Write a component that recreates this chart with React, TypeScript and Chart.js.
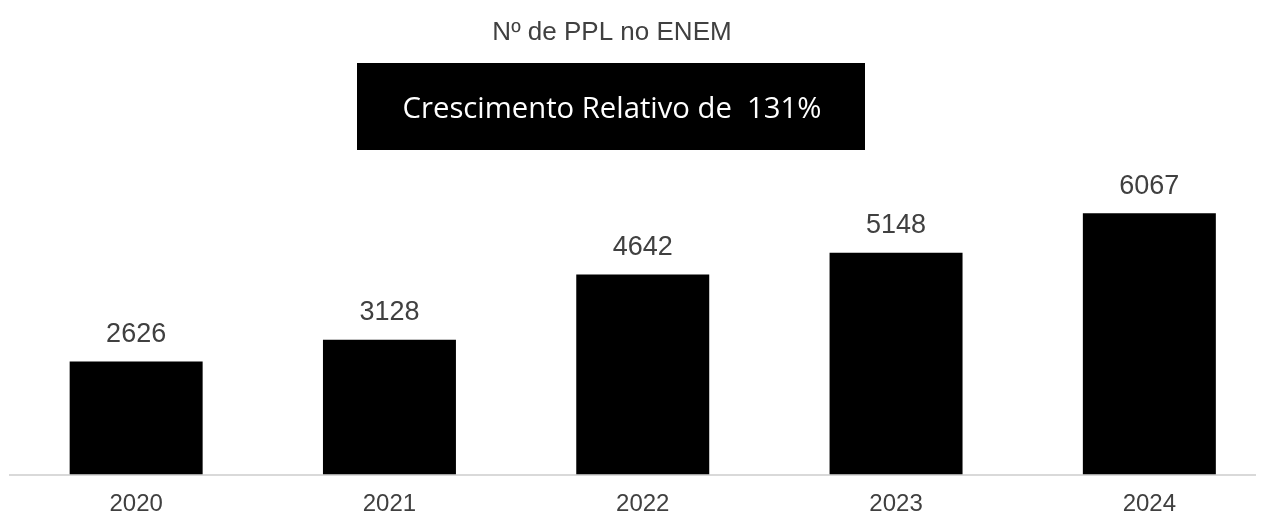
import React, { useEffect, useRef } from "react";
import { Chart, registerables } from "chart.js";

Chart.register(...registerables);

const chartTitle = "Nº de PPL no ENEM";
const boxText = "Crescimento Relativo de  131%";
const years = ["2020", "2021", "2022", "2023", "2024"];
const participants = [2626, 3128, 4642, 5148, 6067];

const TEXT = "#404040";
const FONT = "'Liberation Sans', Arial, sans-serif";

const decorPlugin = {
  id: "decor",
  afterDraw(chart: any) {
    const ctx = chart.ctx;
    ctx.save();
    // title
    ctx.fillStyle = TEXT;
    ctx.font = `26px ${FONT}`;
    ctx.textAlign = "center";
    ctx.textBaseline = "middle";
    ctx.fillText(chartTitle, 604, 25);
    // black box
    ctx.fillStyle = "#000";
    ctx.fillRect(349, 55, 508, 87);
    ctx.fillStyle = "#ffffff";
    let size = 30;
    ctx.font = `${size}px 'Open Sans', 'Noto Sans', sans-serif`;
    const w = ctx.measureText(boxText).width;
    size = size * (419 / w);
    ctx.font = `${size}px 'Open Sans', 'Noto Sans', sans-serif`;
    ctx.fillText(boxText, 604, 102);
    // data labels
    ctx.fillStyle = TEXT;
    ctx.font = `27px ${FONT}`;
    const meta = chart.getDatasetMeta(0);
    meta.data.forEach((bar: any, i: number) => {
      ctx.fillText(String(participants[i]), bar.x, bar.y - 27);
    });
    ctx.restore();
  },
};

export default function App() {
  const ref = useRef<HTMLCanvasElement>(null);
  useEffect(() => {
    if (!ref.current) return;
    const chart = new Chart(ref.current, {
      type: "bar",
      data: {
        labels: years,
        datasets: [
          {
            data: participants,
            backgroundColor: "#000000",
            borderWidth: 0,
            barPercentage: 0.525,
            categoryPercentage: 1,
          },
        ],
      },
      options: {
        animation: false,
        responsive: true,
        maintainAspectRatio: false,
        layout: { padding: { top: 165, left: 1.5, right: 0, bottom: 0 } },
        plugins: {
          legend: { display: false },
          title: { display: false },
          tooltip: { enabled: false },
        },
        scales: {
          x: {
            offset: true,
            grid: { display: false, drawTicks: false },
            border: { display: true, color: "#d9d9d9", width: 2 },
            ticks: {
              color: TEXT,
              padding: 18,
              font: { family: FONT, size: 24, lineHeight: 1 },
            },
            afterFit: (scale: any) => {
              scale.height = 42.5;
            },
          },
          y: {
            display: false,
            min: 0,
            max: 7000,
          },
        },
      },
      plugins: [decorPlugin],
    });
    return () => chart.destroy();
  }, []);
  return (
    <div style={{ width: "1256px", height: "509px", overflow: "hidden" }}>
      <div style={{ position: "relative", width: "1268px", height: "509px" }}>
        <canvas ref={ref} />
      </div>
    </div>
  );
}
